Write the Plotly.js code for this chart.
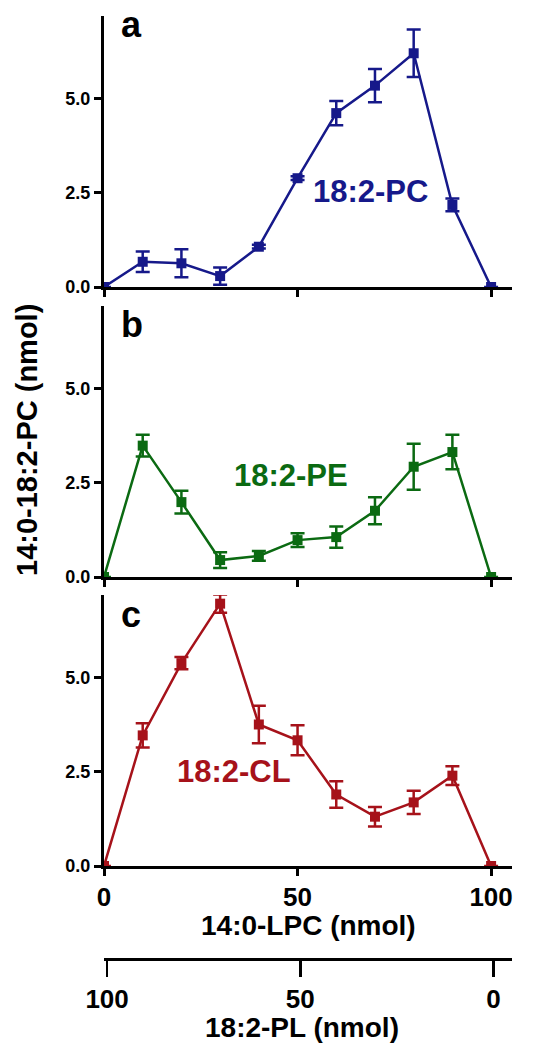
<!DOCTYPE html>
<html>
<head>
<meta charset="utf-8">
<script src="https://cdn.plot.ly/plotly-3.0.1.min.js"></script>
<style>html,body{margin:0;padding:0;background:#fff;}#chart{width:534px;height:1048px;}</style>
</head>
<body>
<div id="chart"></div>
<script>
// 14:0-LPC amounts (nmol) and corresponding 18:2-PL amounts (nmol)
const lpc = [0, 10, 20, 30, 40, 50, 60, 70, 80, 90, 100];
const pl  = [100, 90, 80, 70, 60, 50, 40, 30, 20, 10, 0];

// 14:0-18:2-PC formed (nmol), mean and error
const pcVals = [0, 0.67, 0.63, 0.29, 1.07, 2.89, 4.62, 5.35, 6.21, 2.18, 0];
const pcErr  = [0, 0.27, 0.37, 0.23, 0.05, 0.05, 0.32, 0.44, 0.63, 0.17, 0];
const peVals = [0, 3.49, 1.99, 0.45, 0.56, 0.98, 1.06, 1.76, 2.93, 3.32, 0];
const peErr  = [0, 0.29, 0.30, 0.21, 0.13, 0.18, 0.28, 0.36, 0.61, 0.46, 0];
const clVals = [0, 3.47, 5.39, 6.97, 3.76, 3.34, 1.90, 1.31, 1.69, 2.40, 0];
const clErr  = [0, 0.32, 0.16, 0.24, 0.50, 0.40, 0.35, 0.26, 0.31, 0.25, 0];

const seriesNames = ['18:2-PC', '18:2-PE', '18:2-CL'];
const panelLetters = ['a', 'b', 'c'];
const yTickVals = [0, 2.5, 5];
const yTickText = ['0.0', '2.5', '5.0'];
const xTickVals = [0, 50, 100];
const xTickText = ['0', '50', '100'];
const plTickVals = [100, 50, 0];
const plTickText = ['100', '50', '0'];

const colors = ['#16198a', '#0b6a12', '#a6121a'];

const W = 534, H = 1048;
const px = v => v / W;
const py = v => 1 - v / H;

function series(y, err, color, xa, ya) {
  return {
    x: lpc, y: y, xaxis: xa, yaxis: ya, type: 'scatter', mode: 'lines+markers',
    line: {color: color, width: 2.5},
    marker: {symbol: 'square', size: 10, color: color},
    error_y: {type: 'data', array: err, visible: true, color: color, thickness: 2.5, width: 7},
    hoverinfo: 'x+y', showlegend: false
  };
}

const data = [
  series(pcVals, pcErr, colors[0], 'x', 'y'),
  series(peVals, peErr, colors[1], 'x2', 'y2'),
  series(clVals, clErr, colors[2], 'x3', 'y3'),
  {x: pl, y: clVals, xaxis: 'x4', yaxis: 'y3', type: 'scatter', mode: 'markers',
   marker: {opacity: 0, size: 1}, hoverinfo: 'skip', showlegend: false}
];

const xDomain = [px(104), px(512)];
const FAM = 'Liberation Sans, Arial, sans-serif';
const tickFontY = {family: FAM, size: 18, color: '#000', weight: 'bold'};
const tickFontX = {family: FAM, size: 26, color: '#000', weight: 'bold'};

function xaxis(anchor, labels) {
  return {
    domain: xDomain, anchor: anchor, range: [0, 105.4],
    tickmode: 'array', tickvals: xTickVals, ticktext: xTickText,
    showticklabels: labels, tickfont: tickFontX, ticklabelstandoff: -1,
    ticks: 'outside', ticklen: 7, tickwidth: 3, tickcolor: '#000',
    showline: true, linewidth: 3, linecolor: '#000',
    showgrid: false, zeroline: false, fixedrange: true
  };
}
function yaxis(anchor, top, bottom) {
  return {
    domain: [py(bottom), py(top)], anchor: anchor, range: [0, 7.2],
    tickmode: 'array', tickvals: yTickVals, ticktext: yTickText,
    tickfont: tickFontY,
    ticks: 'outside', ticklen: 7, tickwidth: 3, tickcolor: '#000',
    showline: true, linewidth: 3, linecolor: '#000',
    showgrid: false, zeroline: false, fixedrange: true
  };
}

const titleFont = {family: FAM, size: 28, color: '#000', weight: 'bold'};
const letterFont = {family: FAM, size: 36, color: '#000', weight: 'bold'};

function ann(text, x, y, font, extra) {
  return Object.assign({text: text, x: px(x), y: py(y), xref: 'paper', yref: 'paper',
    showarrow: false, font: font, xanchor: 'center', yanchor: 'middle'}, extra || {});
}

const layout = {
  width: W, height: H,
  margin: {l: 0, r: 0, t: 0, b: 0, pad: 0},
  paper_bgcolor: '#fff', plot_bgcolor: 'rgba(0,0,0,0)',
  showlegend: false,
  xaxis: xaxis('y', false),
  xaxis2: xaxis('y2', false),
  xaxis3: xaxis('y3', true),
  xaxis4: {
    overlaying: 'x3', anchor: 'free', position: py(959), side: 'bottom',
    range: [100.8, -4.8],
    tickmode: 'array', tickvals: plTickVals, ticktext: plTickText,
    tickfont: tickFontX,
    ticks: 'outside', ticklen: 16, tickwidth: 2.5, tickcolor: '#000',
    showline: true, linewidth: 2.5, linecolor: '#000',
    showgrid: false, zeroline: false, fixedrange: true
  },
  yaxis: yaxis('x', 16, 287),
  yaxis2: yaxis('x2', 306, 577),
  yaxis3: yaxis('x3', 595, 866),
  annotations: [
    ann(panelLetters[0], 119, 24, letterFont, {xanchor: 'left'}),
    ann(panelLetters[1], 119, 324, letterFont, {xanchor: 'left'}),
    ann(panelLetters[2], 119, 614, letterFont, {xanchor: 'left'}),
    ann(seriesNames[0], 370, 191, Object.assign({}, titleFont, {size: 31, color: colors[0]})),
    ann(seriesNames[1], 291, 475, Object.assign({}, titleFont, {size: 31, color: colors[1]})),
    ann(seriesNames[2], 234, 771, Object.assign({}, titleFont, {size: 31, color: colors[2]})),
    ann('14:0-LPC (nmol)', 308, 926, titleFont),
    ann('18:2-PL (nmol)', 302, 1027, titleFont),
    ann('14:0-18:2-PC (nmol)', 27, 440, Object.assign({}, titleFont, {size: 29}), {textangle: -90})
  ]
};

Plotly.newPlot('chart', data, layout, {staticPlot: true, displayModeBar: false});
</script>
</body>
</html>
